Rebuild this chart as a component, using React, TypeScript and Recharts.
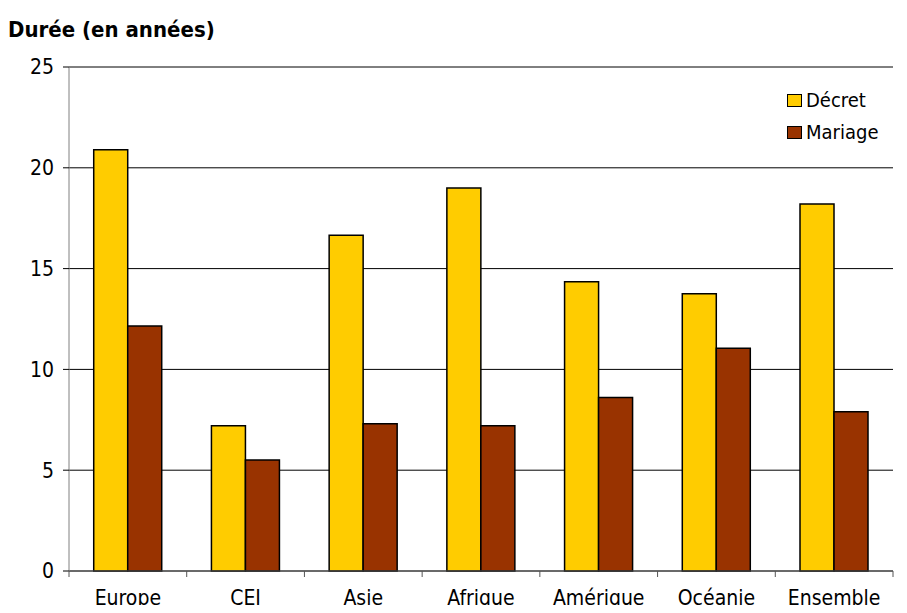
import { BarChart, Bar, XAxis, YAxis, CartesianGrid } from 'recharts';

const categories = ['Europe', 'CEI', 'Asie', 'Afrique', 'Amérique', 'Océanie', 'Ensemble'];
const decret = [20.9, 7.2, 16.65, 19.0, 14.35, 13.75, 18.2];
const mariage = [12.15, 5.5, 7.3, 7.2, 8.6, 11.05, 7.9];
const yTicks = [0, 5, 10, 15, 20, 25];

const data = categories.map((name, i) => ({ name, decret: decret[i], mariage: mariage[i] }));

const FONT = '"DejaVu Sans Condensed", "DejaVu Sans", Verdana, sans-serif';

const legendItems = [
  { label: 'Décret', color: '#FFCC00' },
  { label: 'Mariage', color: '#993300' },
];

// category label plus tick marks at the band boundaries
function CategoryTick(props: any) {
  const { x, y, payload, index } = props;
  const half = payload?.offset ?? 0;
  const last = index === categories.length - 1;
  return (
    <g>
      <line x1={x - half} x2={x - half} y1={y} y2={y + 6} stroke="#555" />
      {last && <line x1={x + half} x2={x + half} y1={y} y2={y + 6} stroke="#555" />}
      <text x={x} y={y + 34} textAnchor="middle" fill="#000" fontSize={21} fontFamily={FONT}>
        {payload.value}
      </text>
    </g>
  );
}

function LegendBox() {
  return (
    <div style={{ position: 'absolute', left: 787, top: 84, fontFamily: FONT, fontSize: 20, color: '#000' }}>
      {legendItems.map((it) => (
        <div key={it.label} style={{ display: 'flex', alignItems: 'center', height: 32 }}>
          <span
            style={{
              display: 'inline-block',
              width: 13,
              height: 11,
              background: it.color,
              border: '1.5px solid #000',
              marginRight: 4,
            }}
          />
          {it.label}
        </div>
      ))}
    </div>
  );
}

export default function App() {
  return (
    <div style={{ position: 'relative', margin: -8, width: 907, height: 613, background: '#fff' }}>
      <BarChart
        width={907}
        height={613}
        data={data}
        margin={{ top: 67, right: 14, left: 0, bottom: 0 }}
        barCategoryGap="21%"
        barGap={0}
      >
        <CartesianGrid vertical={false} stroke="#000" strokeWidth={1} />
        <XAxis
          dataKey="name"
          height={42}
          tickLine={false}
          tickSize={0}
          tickMargin={0}
          axisLine={{ stroke: '#555' }}
          tick={<CategoryTick />}
          interval={0}
        />
        <YAxis
          width={69}
          domain={[0, 25]}
          ticks={yTicks}
          interval={0}
          axisLine={{ stroke: '#808080' }}
          tickLine={{ stroke: '#000' }}
          tickSize={6}
          tickMargin={9}
          tick={{ fill: '#000', fontSize: 21, fontFamily: FONT }}
        />
        <Bar dataKey="decret" name="Décret" fill="#FFCC00" stroke="#000" strokeWidth={1.5} isAnimationActive={false} />
        <Bar dataKey="mariage" name="Mariage" fill="#993300" stroke="#000" strokeWidth={1.5} isAnimationActive={false} />
      </BarChart>
      <div
        style={{
          position: 'absolute',
          left: 8,
          top: 17,
          fontFamily: FONT,
          fontWeight: 'bold',
          fontSize: 22,
          color: '#000',
        }}
      >
        Durée (en années)
      </div>
      <LegendBox />
    </div>
  );
}
